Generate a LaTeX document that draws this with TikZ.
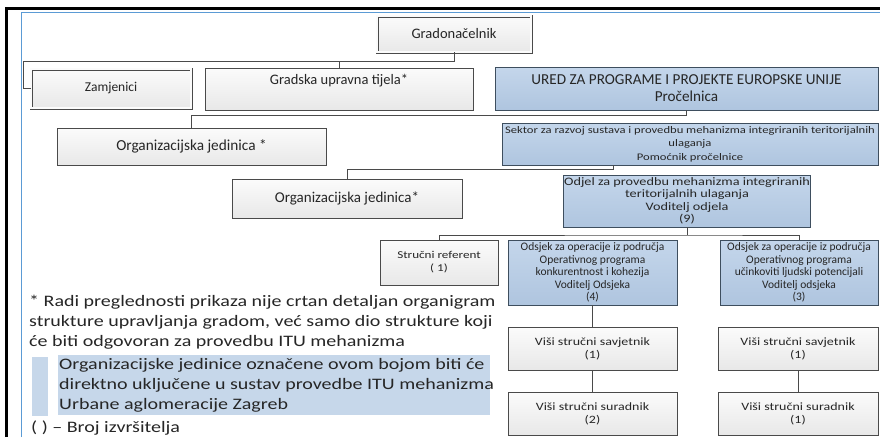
\documentclass[tikz,border=0pt]{standalone}
\usepackage{fontspec}
\setmainfont{Carlito}
\newfontfamily\widefont{Carlito}[FakeStretch=1.25]
\definecolor{txt}{HTML}{262626}
\definecolor{gline}{HTML}{4A4A4A}
\definecolor{bline}{HTML}{3E4E5E}
\definecolor{gtop}{HTML}{FBFBFB}
\definecolor{gbot}{HTML}{E8E8E8}
\definecolor{btop}{HTML}{C4D6EB}
\definecolor{bbot}{HTML}{AFC5DF}
\definecolor{legbg}{HTML}{C6D7EA}
\definecolor{frameblue}{HTML}{5B9BD5}
\tikzset{
  graybox/.style={draw=gline, line width=0.8pt, top color=gtop, bottom color=gbot, inner sep=1pt, align=center, text=txt},
  bluebox/.style={draw=bline, line width=0.8pt, top color=btop, bottom color=bbot, inner sep=1pt, align=center, text=txt},
  dbox/.style={graybox, double=gtop, double distance=1.6pt, line width=0.7pt},
  conn/.style={draw=gline, line width=0.8pt},
  fbig/.style={font=\fontsize{14.5}{17}\selectfont},
  fods/.style={font=\fontsize{11.5}{12.5}\selectfont},
  fodjel/.style={font=\widefont\fontsize{11.4}{12.4}\selectfont},
  fsek/.style={font=\widefont\fontsize{10.1}{13.5}\selectfont},
  fsref/.style={font=\widefont\fontsize{10.5}{13}\selectfont},
  fvis/.style={font=\widefont\fontsize{11.2}{13}\selectfont},
  fnote/.style={font=\widefont\fontsize{16}{20}\selectfont, text=txt, align=left, inner sep=0pt}
}
\begin{document}
\begin{tikzpicture}[x=1pt, y=-1pt]
\useasboundingbox (0,0) rectangle (880,437);
\fill[white] (0,0) rectangle (880,437);
% frames
\draw[black, line width=3pt] (6,437) -- (6,8) -- (881,8);
\draw[frameblue, line width=1pt] (21,437) -- (21,12.5) -- (881,12.5);

% boxes
\node[dbox, fbig, minimum width=154pt, minimum height=36pt] (grad) at (454,34) {Gradonačelnik};
\node[dbox, font=\fontsize{13.5}{16}\selectfont, minimum width=160pt, minimum height=39pt] (zam) at (111,88.5) {Zamjenici};
\node[graybox, minimum width=268pt, minimum height=42pt,
      label={[anchor=north, yshift=-3pt, fbig, text=txt]north:Gradska upravna tijela*}] (gut) at (339,89) {};
\node[bluebox, font=\fontsize{15.2}{17}\selectfont, minimum width=383pt, minimum height=43pt] (ured) at (686.5,88.5) {URED ZA PROGRAME I PROJEKTE EUROPSKE UNIJE\\Pročelnica};
\node[graybox, font=\fontsize{15.3}{17}\selectfont, minimum width=269pt, minimum height=37pt] (oj1) at (191.5,146.5) {Organizacijska jedinica *};
\node[bluebox, fsek, minimum width=376pt, minimum height=42pt, inner sep=0pt] (sektor) at (690,144) {Sektor za razvoj sustava i provedbu mehanizma integriranih teritorijalnih\\ulaganja\\Pomoćnik pročelnice};
\node[graybox, font=\fontsize{15}{17}\selectfont, minimum width=230pt, minimum height=39pt] (oj2) at (347,198.5) {Organizacijska jedinica*};
\node[bluebox, fodjel, minimum width=230pt, minimum height=52pt] (odjel) at (687,201) {Odjel za provedbu mehanizma integriranih\\teritorijalnih ulaganja\\Voditelj odjela\\(9)};
\node[graybox, fsref, minimum width=118pt, minimum height=45pt] (sref) at (439,262.5) {Stručni referent\\( 1)};
\node[bluebox, fods, minimum width=169pt, minimum height=65pt] (ods1) at (592.5,272.5) {Odsjek za operacije iz područja\\Operativnog programa\\konkurentnost i kohezija\\Voditelj Odsjeka\\(4)};
\node[bluebox, fods, minimum width=158pt, minimum height=65pt] (ods2) at (799,272.5) {Odsjek za operacije iz područja\\Operativnog programa\\učinkoviti ljudski potencijali\\Voditelj odsjeka\\(3)};
\node[graybox, fvis, minimum width=169pt, minimum height=43pt] (vss1) at (592.5,348.5) {Viši stručni savjetnik\\(1)};
\node[graybox, fvis, minimum width=169pt, minimum height=43pt] (vsu1) at (592.5,413.5) {Viši stručni suradnik\\(2)};
\node[graybox, fvis, minimum width=160pt, minimum height=43pt] (vss2) at (798,348.5) {Viši stručni savjetnik\\(1)};
\node[graybox, fvis, minimum width=160pt, minimum height=43pt] (vsu2) at (798,413.5) {Viši stručni suradnik\\(1)};

% connectors
\coordinate (b1) at (23,61);
\draw[conn] (grad.south) |- (b1) |- (zam.west);
\draw[conn] (gut.north) -- (gut.north |- b1);
\coordinate (b2) at (686.5,115.5);
\draw[conn] (ured.south) -- (b2) -| (oj1.north);
\coordinate (b3) at (613,169);
\draw[conn] (sektor.south -| b3) -- (b3) -| (oj2.north);
\coordinate (b4) at (687,235);
\draw[conn] (odjel.south) -- (b4);
\draw[conn] (sref.north) |- (b4) -| (ods2.north);
\draw[conn] (ods1) -- (vss1);
\draw[conn] (vss1) -- (vsu1);
\draw[conn] (vss2) -- (vsu2);

% footnote
\node[fnote, anchor=north west] (note) at (29,295) {* Radi preglednosti prikaza nije crtan detaljan organigram\\strukture upravljanja gradom, već samo dio strukture koji\\će biti odgovoran za provedbu ITU mehanizma};

% legend
\fill[legbg] (32,357) rectangle (48,416);
\fill[legbg] (58,355) rectangle (490,415);
\node[fnote, anchor=north west] (leg) at (59,358.5) {Organizacijske jedinice označene ovom bojom biti će\\direktno uključene u sustav provedbe ITU mehanizma\\Urbane aglomeracije Zagreb};
\node[fnote, anchor=north west] (broj) at (31,420.5) {( ) – Broj izvršitelja};
\end{tikzpicture}
\end{document}
